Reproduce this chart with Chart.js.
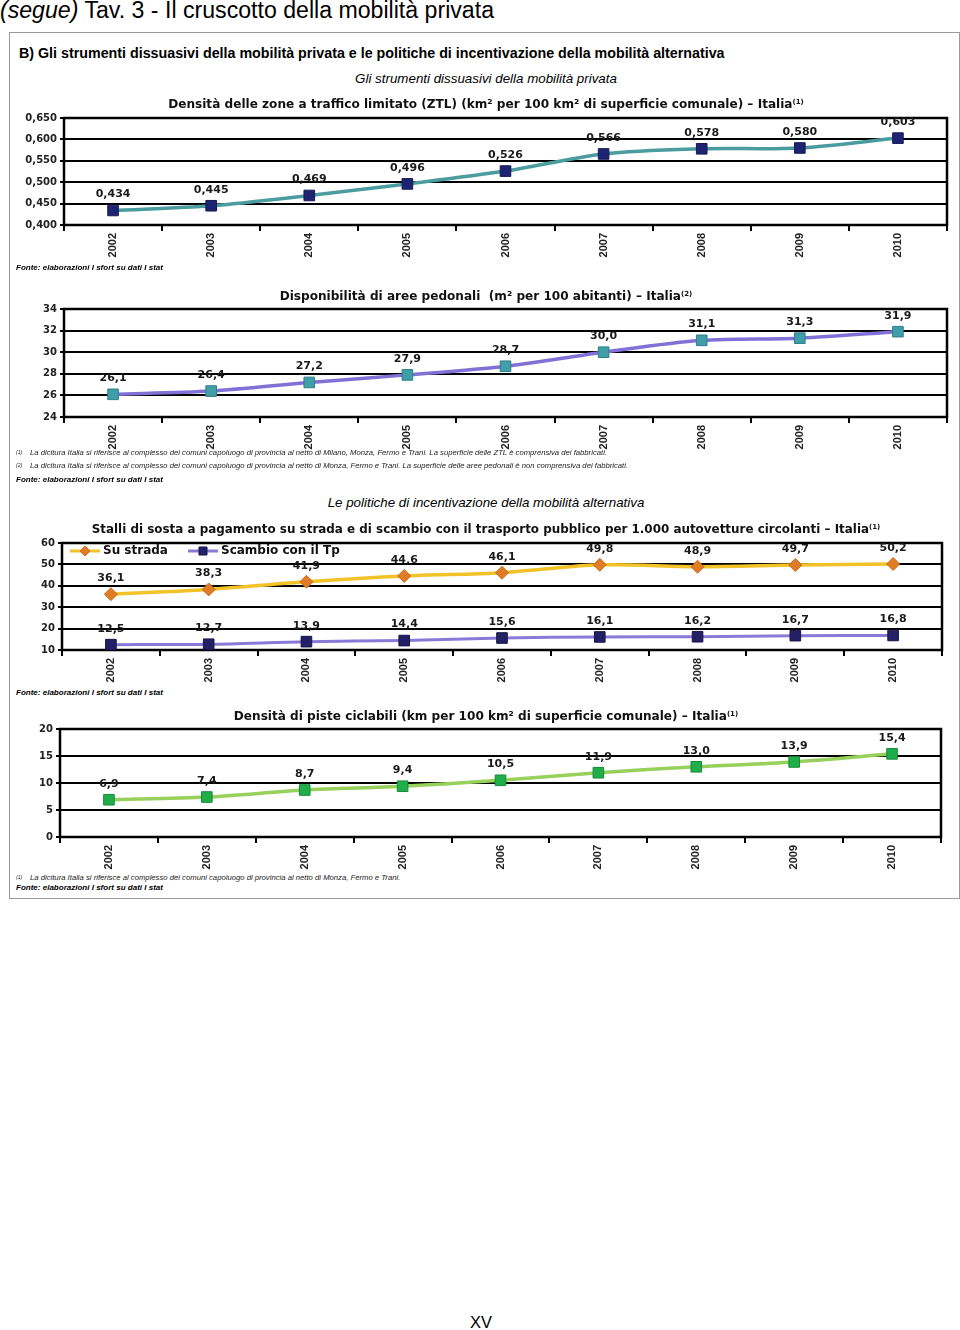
<!DOCTYPE html>
<html lang="it">
<head>
<meta charset="utf-8">
<title>Tav. 3 - Il cruscotto della mobilità privata</title>
<script src="https://cdn.jsdelivr.net/npm/chart.js@4.4.1/dist/chart.umd.min.js"></script>
<style>
  body { margin: 0; width: 960px; height: 1330px; background: #fff; position: relative; font-family: "Liberation Sans", Arial, sans-serif; color: #000; overflow: hidden; }
  .box { position: absolute; left: 9px; top: 32px; width: 949px; height: 865px; border: 1px solid #9a9a9a; }
  canvas { position: absolute; left: 0; }
  .t { position: absolute; white-space: nowrap; }
  .c { position: absolute; left: 0; width: 972px; text-align: center; white-space: nowrap; }
  .ttl { font-family: "DejaVu Sans", Verdana, sans-serif; font-weight: bold; font-size: 11px; line-height: 12px; color: #111; }
  .ttl sup { font-size: 7px; line-height: 0; vertical-align: 4px; }
  .sub { font-style: italic; font-size: 12px; line-height: 12px; }
  .fonte { left: 16px; font-weight: bold; font-style: italic; font-size: 7px; line-height: 8px; }
  .note { left: 30px; font-style: italic; font-size: 7px; line-height: 8px; color: #222; }
  .mark { left: 16px; font-style: italic; font-size: 5px; line-height: 6px; color: #222; }
</style>
</head>
<body>
<div class="box"></div>

<canvas id="ztlChart" width="960" height="157" style="top:108px"></canvas>
<canvas id="pedChart" width="960" height="154" style="top:299px"></canvas>
<canvas id="parkChart" width="960" height="153" style="top:533px"></canvas>
<canvas id="bikeChart" width="960" height="154" style="top:719px"></canvas>

<div class="t" style="left:0;top:0;line-height:20px;font-size:20px"><span data-w="494"><i>(segue)</i> Tav. 3 - Il cruscotto della mobilità privata</span></div>
<div class="t" style="left:19px;top:46px;line-height:14px;font-weight:bold;font-size:13px"><span data-w="706">B) Gli strumenti dissuasivi della mobilità privata e le politiche di incentivazione della mobilità alternativa</span></div>
<div class="c sub" style="top:73px"><span data-w="262">Gli strumenti dissuasivi della mobilità privata</span></div>

<div class="c ttl" style="top:98px"><span data-w="637">Densità delle zone a traffico limitato (ZTL) (km² per 100 km² di superficie comunale) – Italia<sup>(1)</sup></span></div>
<div class="t fonte" style="top:264px"><span data-w="147">Fonte: elaborazioni I sfort su dati I stat</span></div>

<div class="c ttl" style="top:290px"><span data-w="414">Disponibilità di aree pedonali&nbsp; (m² per 100 abitanti) – Italia<sup>(2)</sup></span></div>
<div class="t mark" style="top:449px">(1)</div>
<div class="t note" style="top:449px"><span data-w="577">La dicitura Italia si riferisce al complesso dei comuni capoluogo di provincia al netto di Milano, Monza, Fermo e Trani. La superficie delle ZTL è comprensiva dei fabbricati.</span></div>
<div class="t mark" style="top:462px">(2)</div>
<div class="t note" style="top:462px"><span data-w="599">La dicitura Italia si riferisce al complesso dei comuni capoluogo di provincia al netto di Monza, Fermo e Trani. La superficie delle aree pedonali è non comprensiva dei fabbricati.</span></div>
<div class="t fonte" style="top:476px"><span data-w="147">Fonte: elaborazioni I sfort su dati I stat</span></div>

<div class="c sub" style="top:497px"><span data-w="317">Le politiche di incentivazione della mobilità alternativa</span></div>
<div class="c ttl" style="top:523px"><span data-w="790">Stalli di sosta a pagamento su strada e di scambio con il trasporto pubblico per 1.000 autovetture circolanti – Italia<sup>(1)</sup></span></div>
<div class="t fonte" style="top:689px"><span data-w="147">Fonte: elaborazioni I sfort su dati I stat</span></div>

<div class="c ttl" style="top:710px"><span data-w="506">Densità di piste ciclabili (km per 100 km² di superficie comunale) – Italia<sup>(1)</sup></span></div>
<div class="t mark" style="top:874px">(1)</div>
<div class="t note" style="top:874px"><span data-w="371">La dicitura Italia si riferisce al complesso dei comuni capoluogo di provincia al netto di Monza, Fermo e Trani.</span></div>
<div class="t fonte" style="top:884px"><span data-w="147">Fonte: elaborazioni I sfort su dati I stat</span></div>

<div class="t" style="left:470px;top:1312px;font-size:18px;line-height:20px"><span data-w="22">XV</span></div>

<script>
// anni e serie
const years = ['2002', '2003', '2004', '2005', '2006', '2007', '2008', '2009', '2010'];
const ztlDensity = [0.434, 0.445, 0.469, 0.496, 0.526, 0.566, 0.578, 0.580, 0.603];
const pedestrianAreas = [26.1, 26.4, 27.2, 27.9, 28.7, 30.0, 31.1, 31.3, 31.9];
const onStreetParking = [36.1, 38.3, 41.9, 44.6, 46.1, 49.8, 48.9, 49.7, 50.2];
const parkAndRide = [12.5, 12.7, 13.9, 14.4, 15.6, 16.1, 16.2, 16.7, 16.8];
const cycleLanes = [6.9, 7.4, 8.7, 9.4, 10.5, 11.9, 13.0, 13.9, 15.4];
const parkingLabels = ['Su strada', 'Scambio con il Tp'];

// adatta i testi alla larghezza dell'originale
document.querySelectorAll('[data-w]').forEach(el => {
    const w = el.getBoundingClientRect().width;
    const fs = parseFloat(getComputedStyle(el).fontSize);
    el.style.fontSize = (fs * el.dataset.w / w).toFixed(2) + 'px';
});

const fmt = (v, dec) => Number(v).toFixed(dec).replace('.', ',');

const valueLabels = {
    id: 'valueLabels',
    afterDatasetsDraw(chart, args, opts) {
        const ctx = chart.ctx;
        ctx.save();
        ctx.font = 'bold 11px "DejaVu Sans"';
        ctx.fillStyle = '#1a1a1a';
        ctx.textAlign = 'center';
        ctx.textBaseline = 'middle';
        chart.data.datasets.forEach((ds, i) => {
            chart.getDatasetMeta(i).data.forEach((pt, j) => {
                ctx.fillText(fmt(ds.data[j], opts.decimals), pt.x, pt.y - 16);
            });
        });
        ctx.restore();
    }
};

const frame = {
    id: 'frame',
    beforeDatasetsDraw(chart) {
        const a = chart.chartArea;
        const ctx = chart.ctx;
        ctx.save();
        ctx.strokeStyle = '#000';
        ctx.lineWidth = 2.5;
        ctx.strokeRect(a.left, a.top, a.right - a.left, a.bottom - a.top);
        ctx.restore();
    }
};

// legenda dentro l'area del grafico, stile Excel
const innerLegend = {
    id: 'innerLegend',
    afterDraw(chart) {
        const ctx = chart.ctx;
        const a = chart.chartArea;
        const offsets = [8, 126];
        ctx.save();
        ctx.font = 'bold 12px "DejaVu Sans"';
        ctx.textBaseline = 'middle';
        chart.data.datasets.forEach((ds, i) => {
            const x = a.left + offsets[i];
            const y = a.top + 8;
            ctx.strokeStyle = ds.borderColor;
            ctx.lineWidth = 3;
            ctx.beginPath();
            ctx.moveTo(x, y);
            ctx.lineTo(x + 30, y);
            ctx.stroke();
            ctx.fillStyle = ds.pointBackgroundColor;
            ctx.strokeStyle = ds.pointBorderColor;
            ctx.lineWidth = 1;
            ctx.beginPath();
            if (ds.pointStyle === 'rectRot') {
                ctx.moveTo(x + 15, y - 5); ctx.lineTo(x + 20, y); ctx.lineTo(x + 15, y + 5); ctx.lineTo(x + 10, y);
            } else {
                ctx.rect(x + 11, y - 4, 8, 8);
            }
            ctx.closePath();
            ctx.fill();
            ctx.stroke();
            ctx.fillStyle = '#111';
            ctx.fillText(ds.label, x + 33, y);
        });
        ctx.restore();
    }
};

function yAxis(min, max, step, dec, width) {
    return {
        min: min,
        max: max,
        ticks: {
            stepSize: step,
            padding: 3,
            color: '#222',
            font: { family: 'DejaVu Sans', weight: 'bold', size: 10 },
            callback: v => fmt(v, dec)
        },
        grid: { color: '#000', lineWidth: 2, tickLength: 4 },
        border: { color: '#000', width: 2 },
        afterFit: s => { s.width = width; }
    };
}

function xAxis(height) {
    return {
        type: 'category',
        offset: true,
        grid: { offset: true, drawOnChartArea: false, color: '#000', lineWidth: 2, tickLength: 6 },
        border: { color: '#000', width: 2 },
        ticks: {
            autoSkip: false,
            minRotation: 90,
            maxRotation: 90,
            padding: 2,
            color: '#222',
            font: { family: '"Liberation Sans Narrow", "Liberation Sans", sans-serif', weight: 'bold', size: 11 }
        },
        afterFit: s => { s.height = height; }
    };
}

function lineChart(id, datasets, y, x, right, decimals, extra) {
    return new Chart(document.getElementById(id), {
        type: 'line',
        data: { labels: years, datasets: datasets },
        options: {
            responsive: false,
            animation: false,
            devicePixelRatio: 1,
            layout: { padding: { top: 10, right: right, left: 0, bottom: 0 } },
            scales: { x: x, y: y },
            plugins: {
                legend: { display: false },
                tooltip: { enabled: false },
                valueLabels: { decimals: decimals }
            }
        },
        plugins: [frame, valueLabels].concat(extra || [])
    });
}

lineChart('ztlChart', [{
    data: ztlDensity,
    borderColor: '#4a9c9e',
    borderWidth: 3.5,
    tension: 0.3,
    pointStyle: 'rect',
    pointRadius: 7.5,
    pointBackgroundColor: '#1f2472',
    pointBorderColor: '#151a55',
    pointBorderWidth: 1
}], yAxis(0.4, 0.65, 0.05, 3, 64), xAxis(40), 13, 3);

lineChart('pedChart', [{
    data: pedestrianAreas,
    borderColor: '#8170d6',
    borderWidth: 3.5,
    tension: 0.3,
    pointStyle: 'rect',
    pointRadius: 7.5,
    pointBackgroundColor: '#3f9ea8',
    pointBorderColor: '#2f7f88',
    pointBorderWidth: 1
}], yAxis(24, 34, 2, 0, 64), xAxis(36), 13, 1);

lineChart('parkChart', [{
    label: parkingLabels[0],
    data: onStreetParking,
    borderColor: '#f2c229',
    borderWidth: 3.5,
    tension: 0.3,
    pointStyle: 'rectRot',
    pointRadius: 6.5,
    pointBackgroundColor: '#e07b26',
    pointBorderColor: '#c86a1c',
    pointBorderWidth: 1
}, {
    label: parkingLabels[1],
    data: parkAndRide,
    borderColor: '#8a7ad8',
    borderWidth: 3,
    tension: 0.3,
    pointStyle: 'rect',
    pointRadius: 7.5,
    pointBackgroundColor: '#232066',
    pointBorderColor: '#16144a',
    pointBorderWidth: 1
}], yAxis(10, 60, 10, 0, 62), xAxis(36), 18, 1, [innerLegend]);

lineChart('bikeChart', [{
    data: cycleLanes,
    borderColor: '#97d05a',
    borderWidth: 3.5,
    tension: 0.3,
    pointStyle: 'rect',
    pointRadius: 7.5,
    pointBackgroundColor: '#1fae4a',
    pointBorderColor: '#178a3a',
    pointBorderWidth: 1
}], yAxis(0, 20, 5, 0, 60), xAxis(36), 19, 1);
</script>
</body>
</html>
